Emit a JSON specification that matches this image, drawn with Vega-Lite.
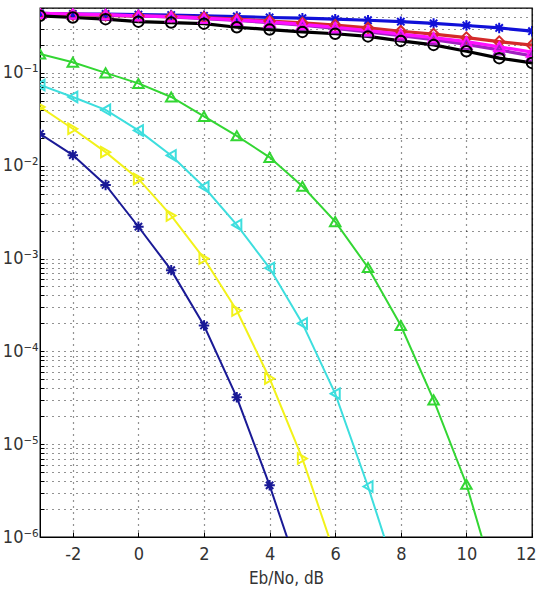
{
  "$schema": "https://vega.github.io/schema/vega-lite/v6.json",
  "width": 492,
  "height": 529,
  "autosize": {"type": "none"},
  "padding": {"left": 40, "top": 8, "right": 8, "bottom": 53},
  "background": "#ffffff",
  "config": {
    "view": {"stroke": "#000000", "strokeWidth": 1.3},
    "font": "Liberation Sans Narrow, DejaVu Sans Condensed, Liberation Sans, Arial",
    "axis": {
      "labelFont": "Liberation Sans Narrow, DejaVu Sans Condensed, Liberation Sans, Arial",
      "titleFont": "Liberation Sans Narrow, DejaVu Sans Condensed, Liberation Sans, Arial",
      "labelColor": "#333333",
      "titleColor": "#333333",
      "domainColor": "#000000",
      "tickColor": "#000000",
      "gridColor": "#000000",
      "gridDash": [1, 5],
      "gridOpacity": 0.85,
      "gridWidth": 1.2
    }
  },
  "data": {
    "values": [
      {"x": -3, "y": 0.022, "s": "b1"}, {"x": -2, "y": 0.013, "s": "b1"}, {"x": -1, "y": 0.0062, "s": "b1"}, {"x": 0, "y": 0.0022, "s": "b1"}, {"x": 1, "y": 0.00075, "s": "b1"}, {"x": 2, "y": 0.00019, "s": "b1"}, {"x": 3, "y": 0.000032, "s": "b1"}, {"x": 4, "y": 0.0000036, "s": "b1"}, {"x": 5, "y": 0.00000032, "s": "b1"},
      {"x": -3, "y": 0.043, "s": "y1"}, {"x": -2, "y": 0.025, "s": "y1"}, {"x": -1, "y": 0.014, "s": "y1"}, {"x": 0, "y": 0.0072, "s": "y1"}, {"x": 1, "y": 0.0029, "s": "y1"}, {"x": 2, "y": 0.001, "s": "y1"}, {"x": 3, "y": 0.000275, "s": "y1"}, {"x": 4, "y": 0.000051, "s": "y1"}, {"x": 5, "y": 0.000007, "s": "y1"}, {"x": 6, "y": 0.00000063, "s": "y1"},
      {"x": -3, "y": 0.074, "s": "c1"}, {"x": -2, "y": 0.055, "s": "c1"}, {"x": -1, "y": 0.04, "s": "c1"}, {"x": 0, "y": 0.024, "s": "c1"}, {"x": 1, "y": 0.0129, "s": "c1"}, {"x": 2, "y": 0.0059, "s": "c1"}, {"x": 3, "y": 0.0023, "s": "c1"}, {"x": 4, "y": 0.00079, "s": "c1"}, {"x": 5, "y": 0.0002, "s": "c1"}, {"x": 6, "y": 0.000035, "s": "c1"}, {"x": 7, "y": 0.0000035, "s": "c1"}, {"x": 8, "y": 0.00000028, "s": "c1"},
      {"x": -3, "y": 0.16, "s": "g1"}, {"x": -2, "y": 0.13, "s": "g1"}, {"x": -1, "y": 0.1, "s": "g1"}, {"x": 0, "y": 0.077, "s": "g1"}, {"x": 1, "y": 0.055, "s": "g1"}, {"x": 2, "y": 0.034, "s": "g1"}, {"x": 3, "y": 0.021, "s": "g1"}, {"x": 4, "y": 0.0123, "s": "g1"}, {"x": 5, "y": 0.006, "s": "g1"}, {"x": 6, "y": 0.0025, "s": "g1"}, {"x": 7, "y": 0.0008, "s": "g1"}, {"x": 8, "y": 0.00019, "s": "g1"}, {"x": 9, "y": 0.00003, "s": "g1"}, {"x": 10, "y": 0.0000037, "s": "g1"}, {"x": 11, "y": 0.00000023, "s": "g1"},
      {"x": -3, "y": 0.438, "s": "tb"}, {"x": -2, "y": 0.431, "s": "tb"}, {"x": -1, "y": 0.431, "s": "tb"}, {"x": 0, "y": 0.424, "s": "tb"}, {"x": 1, "y": 0.42, "s": "tb"}, {"x": 2, "y": 0.412, "s": "tb"}, {"x": 3, "y": 0.405, "s": "tb"}, {"x": 4, "y": 0.395, "s": "tb"}, {"x": 5, "y": 0.388, "s": "tb"}, {"x": 6, "y": 0.379, "s": "tb"}, {"x": 7, "y": 0.369, "s": "tb"}, {"x": 8, "y": 0.356, "s": "tb"}, {"x": 9, "y": 0.341, "s": "tb"}, {"x": 10, "y": 0.324, "s": "tb"}, {"x": 11, "y": 0.305, "s": "tb"}, {"x": 12, "y": 0.281, "s": "tb"},
      {"x": -3, "y": 0.431, "s": "tr"}, {"x": -2, "y": 0.424, "s": "tr"}, {"x": -1, "y": 0.417, "s": "tr"}, {"x": 0, "y": 0.409, "s": "tr"}, {"x": 1, "y": 0.403, "s": "tr"}, {"x": 2, "y": 0.395, "s": "tr"}, {"x": 3, "y": 0.379, "s": "tr"}, {"x": 4, "y": 0.362, "s": "tr"}, {"x": 5, "y": 0.345, "s": "tr"}, {"x": 6, "y": 0.327, "s": "tr"}, {"x": 7, "y": 0.305, "s": "tr"}, {"x": 8, "y": 0.281, "s": "tr"}, {"x": 9, "y": 0.262, "s": "tr"}, {"x": 10, "y": 0.24, "s": "tr"}, {"x": 11, "y": 0.217, "s": "tr"}, {"x": 12, "y": 0.199, "s": "tr"},
      {"x": -3, "y": 0.438, "s": "tp"}, {"x": -2, "y": 0.431, "s": "tp"}, {"x": -1, "y": 0.42, "s": "tp"}, {"x": 0, "y": 0.41, "s": "tp"}, {"x": 1, "y": 0.4, "s": "tp"}, {"x": 2, "y": 0.385, "s": "tp"}, {"x": 3, "y": 0.368, "s": "tp"}, {"x": 4, "y": 0.348, "s": "tp"}, {"x": 5, "y": 0.326, "s": "tp"}, {"x": 6, "y": 0.302, "s": "tp"}, {"x": 7, "y": 0.277, "s": "tp"}, {"x": 8, "y": 0.252, "s": "tp"}, {"x": 9, "y": 0.228, "s": "tp"}, {"x": 10, "y": 0.203, "s": "tp"}, {"x": 11, "y": 0.177, "s": "tp"}, {"x": 12, "y": 0.152, "s": "tp"},
      {"x": -3, "y": 0.438, "s": "tm"}, {"x": -2, "y": 0.431, "s": "tm"}, {"x": -1, "y": 0.424, "s": "tm"}, {"x": 0, "y": 0.412, "s": "tm"}, {"x": 1, "y": 0.403, "s": "tm"}, {"x": 2, "y": 0.388, "s": "tm"}, {"x": 3, "y": 0.373, "s": "tm"}, {"x": 4, "y": 0.354, "s": "tm"}, {"x": 5, "y": 0.333, "s": "tm"}, {"x": 6, "y": 0.31, "s": "tm"}, {"x": 7, "y": 0.286, "s": "tm"}, {"x": 8, "y": 0.262, "s": "tm"}, {"x": 9, "y": 0.24, "s": "tm"}, {"x": 10, "y": 0.217, "s": "tm"}, {"x": 11, "y": 0.191, "s": "tm"}, {"x": 12, "y": 0.167, "s": "tm"},
      {"x": -3, "y": 0.412, "s": "tk"}, {"x": -2, "y": 0.395, "s": "tk"}, {"x": -1, "y": 0.379, "s": "tk"}, {"x": 0, "y": 0.356, "s": "tk"}, {"x": 1, "y": 0.348, "s": "tk"}, {"x": 2, "y": 0.339, "s": "tk"}, {"x": 3, "y": 0.31, "s": "tk"}, {"x": 4, "y": 0.293, "s": "tk"}, {"x": 5, "y": 0.276, "s": "tk"}, {"x": 6, "y": 0.264, "s": "tk"}, {"x": 7, "y": 0.247, "s": "tk"}, {"x": 8, "y": 0.221, "s": "tk"}, {"x": 9, "y": 0.2, "s": "tk"}, {"x": 10, "y": 0.171, "s": "tk"}, {"x": 11, "y": 0.144, "s": "tk"}, {"x": 12, "y": 0.128, "s": "tk"}
    ]
  },
  "encoding": {
    "x": {
      "field": "x", "type": "quantitative",
      "scale": {"domain": [-3, 12], "nice": false, "zero": false},
      "axis": {
        "values": [-2, 0, 2, 4, 6, 8, 10, 12],
        "labelExpr": "datum.value < 0 ? '-' + abs(datum.value) : '' + datum.value",
        "title": "Eb/No, dB",
        "titleFontSize": 17, "titleFontWeight": "normal", "titlePadding": 7,
        "labelFontSize": 18, "labelPadding": 13,
        "tickSize": -5, "grid": true, "labelFlush": true, "labelFlushOffset": 4
      }
    },
    "y": {
      "field": "y", "type": "quantitative",
      "scale": {"type": "log", "domain": [0.000001, 0.5], "nice": false},
      "axis": {
        "values": [0.000001, 0.000002, 0.000003, 0.000004, 0.000005, 0.000006, 0.000007, 0.000008, 0.000009, 0.00001, 0.00002, 0.00003, 0.00004, 0.00005, 0.00006, 0.00007, 0.00008, 0.00009, 0.0001, 0.0002, 0.0003, 0.0004, 0.0005, 0.0006, 0.0007, 0.0008, 0.0009, 0.001, 0.002, 0.003, 0.004, 0.005, 0.006, 0.007, 0.008, 0.009, 0.01, 0.02, 0.03, 0.04, 0.05, 0.06, 0.07, 0.08, 0.09, 0.1, 0.2, 0.3, 0.4, 0.5],
        "labelExpr": "abs(log(datum.value)/LN10 - round(log(datum.value)/LN10)) < 0.000001 ? ['10⁻⁶','10⁻⁵','10⁻⁴','10⁻³','10⁻²','10⁻¹'][round(log(datum.value)/LN10) + 6] : ''",
        "labelOverlap": false,
        "labelFontSize": 18, "labelPadding": 6,
        "tickSize": -4, "grid": true, "title": null
      }
    },
    "color": {
      "field": "s", "type": "nominal", "legend": null,
      "scale": {
        "domain": ["b1", "y1", "c1", "g1", "tb", "tr", "tp", "tm", "tk"],
        "range": ["#1a1a96", "#f2f21a", "#3ddede", "#33d633", "#1010d8", "#d42a2a", "#a020c0", "#ff10ff", "#000000"]
      }
    }
  },
  "layer": [
    {
      "transform": [{"filter": "indexof(['b1','y1','c1','g1'], datum.s) >= 0"}],
      "mark": {"type": "line", "strokeWidth": 2, "clip": true},
      "encoding": {"detail": {"field": "s"}}
    },
    {
      "transform": [{"filter": "indexof(['b1','y1','c1','g1'], datum.s) < 0"}],
      "mark": {"type": "line", "strokeWidth": 3.2, "clip": true},
      "encoding": {"detail": {"field": "s"}}
    },
    {
      "mark": {"type": "point", "filled": false, "strokeWidth": 2, "size": 110, "clip": true, "opacity": 1},
      "encoding": {
        "shape": {
          "field": "s", "type": "nominal", "legend": null,
          "scale": {
            "domain": ["b1", "y1", "c1", "g1", "tb", "tr", "tp", "tm", "tk"],
            "range": ["M-1,0L1,0M0,-1L0,1M-0.7,-0.7L0.7,0.7M-0.7,0.7L0.7,-0.7", "triangle-right", "triangle-left", "triangle-up", "M-1,0L1,0M0,-1L0,1M-0.7,-0.7L0.7,0.7M-0.7,0.7L0.7,-0.7", "diamond", "triangle-up", "triangle-up", "circle"]
          }
        }
      }
    }
  ]
}
